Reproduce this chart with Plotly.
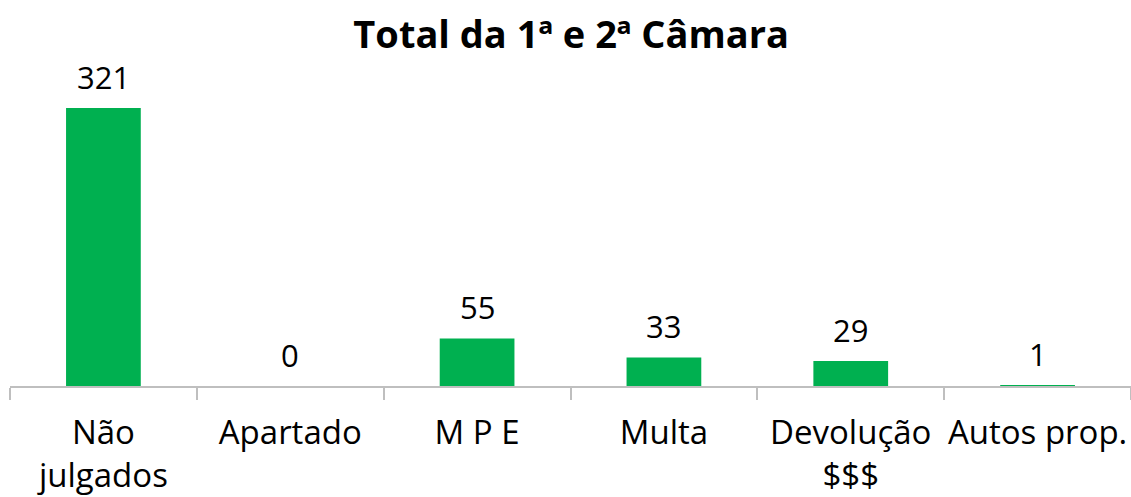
import plotly.graph_objects as go

categories = ["Não<br>julgados", "Apartado", "M P E", "Multa", "Devolução<br>$$$", "Autos prop."]
values = [321, 0, 55, 33, 29, 1]
title_text = "Total da 1ª e 2ª Câmara"

fig = go.Figure(go.Bar(
    x=categories, y=values,
    marker=dict(color="#00B050", line=dict(width=0)),
    width=0.4,
    hoverinfo="skip",
    showlegend=False,
))

# value labels placed above bars via axis coordinates
for c, v in zip(categories, values):
    fig.add_annotation(x=c, y=v, xref="x", yref="y", text=str(v),
                       showarrow=False, yanchor="bottom", yshift=8,
                       font=dict(family="Open Sans", size=31, color="black"))

fig.update_layout(
    width=1131, height=497,
    margin=dict(l=10, r=0, t=83, b=111),
    paper_bgcolor="white", plot_bgcolor="white",
    title=dict(text="<b>" + title_text + "</b>", x=0.505, xanchor="center",
               y=0.93, yanchor="middle",
               font=dict(family="Open Sans", size=38, color="black")),
    xaxis=dict(showline=True, linecolor="#BFBFBF", linewidth=1.5,
               ticks="outside", ticklen=12, tickcolor="#BFBFBF", tickwidth=1.5,
               tickson="boundaries", range=[-0.5, 5.5], automargin=False,
               tickangle=0, ticklabelstandoff=17,
               tickfont=dict(family="Open Sans", size=33, color="black")),
    yaxis=dict(visible=False, range=[0, 350], automargin=False),
    showlegend=False,
)

fig.write_html("out.html", config={"displayModeBar": False},
               post_script="document.body.style.margin='0';document.body.style.overflow='hidden';")
